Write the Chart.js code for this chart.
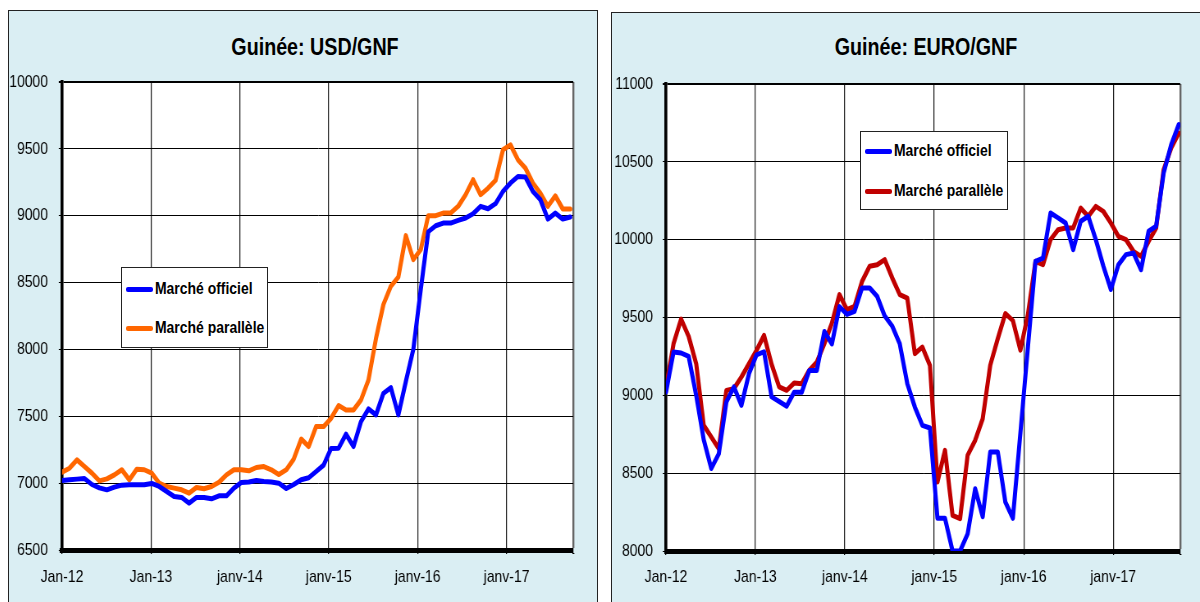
<!DOCTYPE html>
<html><head><meta charset="utf-8">
<script src="https://cdn.jsdelivr.net/npm/chart.js@4.4.0/dist/chart.umd.min.js"></script>
<style>
html,body{margin:0;padding:0;background:#fff;width:1200px;height:602px;overflow:hidden;position:relative;font-family:'Liberation Sans',Arial,sans-serif;}
.panel{position:absolute;background:#DAEEF3;border:1px solid #222;box-sizing:border-box;}
#p1{left:8px;top:10px;width:590px;height:640px;}
#p2{left:611px;top:12px;width:640px;height:640px;}
.title{position:absolute;font-weight:bold;font-size:24px;line-height:28px;text-align:center;width:400px;color:#000;transform:scaleX(0.82);transform-origin:center;}
canvas{position:absolute;}
.legend{position:absolute;background:#fff;border:1px solid #222;box-sizing:border-box;}
.item{position:absolute;height:20px;display:flex;align-items:center;white-space:nowrap;color:#000;}
.item .tx{display:inline-block;font-weight:bold;font-size:17px;transform:scaleX(0.82);transform-origin:left center;}
.sw{width:27px;height:5px;margin-right:2px;border-radius:2px;flex:none;}
</style></head>
<body>
<div class="panel" id="p1"></div>
<div class="panel" id="p2"></div>
<div class="title" id="t1" style="left:115px;top:33px;">Guinée: USD/GNF</div>
<div class="title" id="t2" style="left:726px;top:33px;">Guinée: EURO/GNF</div>
<canvas id="c1" style="left:8px;top:10px;width:589px;height:592px;"></canvas>
<canvas id="c2" style="left:611px;top:12px;width:589px;height:590px;"></canvas>
<div class="legend" id="l1" style="left:121px;top:267px;width:147px;height:81px;"></div>
<div class="legend" id="l2" style="left:860px;top:131px;width:148px;height:79px;"></div>
<script>
// ---- Data ----
const months = [];
['12','13','14','15','16','17'].forEach(y => {
  ['01','02','03','04','05','06','07','08','09','10','11','12'].forEach(m => months.push(m + '/' + y));
});
months.length = 69; // Jan-12 .. Sep-17

const yearLabels = ['Jan-12', 'Jan-13', 'janv-14', 'janv-15', 'janv-16', 'janv-17'];
const seriesNames = ['Marché officiel', 'Marché parallèle'];

const usdOfficiel = [
  7020,7025,7030,7035,6990,6965,6950,6970,6985,6988,6988,6988,
  6998,6975,6938,6900,6893,6850,6893,6893,6883,6905,6905,6963,
  7005,7008,7020,7012,7008,7000,6960,6990,7025,7040,7087,7135,
  7260,7261,7366,7274,7460,7555,7510,7672,7714,7510,7760,8000,
  8450,8880,8925,8945,8945,8965,8983,9015,9070,9052,9090,9182,
  9244,9293,9289,9182,9120,8975,9020,8975,8990
];
const usdParallele = [
  7082,7112,7174,7124,7075,7017,7032,7062,7100,7025,7104,7100,
  7075,7000,6975,6963,6950,6925,6968,6958,6975,7007,7062,7100,
  7100,7092,7117,7124,7100,7065,7100,7180,7330,7274,7423,7423,
  7485,7580,7547,7547,7622,7771,8080,8336,8473,8542,8851,8672,
  8746,9000,9000,9020,9020,9070,9157,9269,9157,9206,9264,9493,
  9530,9418,9356,9244,9169,9070,9149,9050,9050
];
const euroOfficiel = [
  9021,9278,9272,9250,9000,8715,8530,8625,8957,9054,8936,9139,
  9260,9280,8990,8960,8930,9020,9020,9160,9160,9410,9330,9570,
  9520,9540,9690,9690,9636,9510,9445,9330,9075,8925,8807,8790,
  8210,8210,8000,8000,8110,8400,8220,8636,8636,8315,8210,8760,
  9310,9861,9882,10171,10140,10107,9936,10118,10150,10000,9830,9680,
  9839,9904,9914,9807,10054,10086,10428,10610,10739
];
const euroParallele = [
  9054,9332,9490,9379,9203,8807,8732,8657,9032,9043,9118,9203,
  9289,9385,9200,9054,9032,9079,9075,9161,9214,9332,9465,9647,
  9550,9572,9732,9829,9839,9872,9754,9647,9625,9268,9310,9193,
  8443,8647,8229,8208,8615,8711,8850,9193,9364,9525,9480,9290,
  9520,9861,9839,10000,10064,10075,10075,10203,10150,10214,10182,10107,
  10021,10000,9925,9893,9989,10075,10450,10589,10685
];

// ---- Chart setup ----
const FONT = "'Liberation Sans', Arial, sans-serif";
Chart.defaults.font.family = FONT;
const SX = 0.82; // horizontal compression of the canvas (narrow typeface look)

const plotBg = {
  id: 'plotBg',
  beforeDraw(chart) {
    const {ctx, chartArea: a} = chart;
    ctx.save();
    ctx.fillStyle = '#fff';
    ctx.fillRect(a.left, a.top, a.width, a.height);
    ctx.restore();
  }
};

function makeChart(canvasId, legendId, legendRows, cfg) {
  const cv = document.getElementById(canvasId);
  cv.width = Math.round(cfg.cssW / SX);
  cv.height = cfg.cssH;
  const yWidth = cfg.plotLeft / SX;
  const padRight = cv.width - cfg.plotRight / SX;
  const yPad = (cfg.plotLeft - cfg.labelRight) / SX - 4;

  const datasets = cfg.series.map((s, k) => ({
    label: seriesNames[k],
    data: s.map((v, i) => ({x: i, y: v})),
    borderColor: cfg.colors[k],
    backgroundColor: cfg.colors[k],
    borderWidth: 5,
    pointRadius: 0,
    tension: 0,
    borderJoinStyle: 'round',
    borderCapStyle: 'round',
    xAxisID: 'x',
    yAxisID: 'y'
  }));
  const chart = new Chart(cv, {
    type: 'line',
    data: {datasets},
    plugins: [plotBg],
    options: {
      responsive: false,
      animation: false,
      devicePixelRatio: 1,
      layout: {padding: {left: 0, top: cfg.padTop, right: padRight, bottom: 0}},
      plugins: {legend: {display: false}, tooltip: {enabled: false}, title: {display: false}},
      scales: {
        x: {type: 'linear', min: 0, max: cfg.xMax, display: false},
        xg: {
          type: 'linear', position: 'bottom', min: 0, max: 69,
          afterFit(s) { s.height = cfg.xHeight; },
          ticks: {
            stepSize: 12, autoSkip: false, maxRotation: 0, padding: cfg.xPad,
            color: '#000', font: {size: 17, family: FONT},
            callback: (v) => (v % 12 === 0 && v / 12 < yearLabels.length) ? yearLabels[v / 12] : ''
          },
          grid: {
            color: (c) => (c.tick && c.tick.value === 69) ? '#666' : '#222',
            lineWidth: (c) => (c.tick && c.tick.value === 69) ? 2.4 : 1.25,
            tickLength: 4, tickColor: '#000', drawTicks: true
          },
          border: {display: true, color: '#000', width: 5}
        },
        y: {
          type: 'linear', position: 'left', min: cfg.yMin, max: cfg.yMax,
          afterFit(s) { s.width = yWidth; },
          ticks: {
            stepSize: 500, padding: yPad, color: '#000',
            font: {size: 17, family: FONT},
            callback: (v) => String(v)
          },
          grid: {color: '#000', lineWidth: (c) => (c.tick && c.tick.value === cfg.yMax) ? 2 : 1, tickLength: 4, tickColor: '#000'},
          border: {display: true, color: '#000', width: 3.6}
        }
      }
    }
  });
  // HTML legend from datasets
  const box = document.getElementById(legendId);
  chart.data.datasets.forEach((d, k) => {
    const it = document.createElement('div');
    it.className = 'item';
    it.style.left = legendRows.left + 'px';
    it.style.top = legendRows.tops[k] + 'px';
    const sw = document.createElement('span');
    sw.className = 'sw';
    sw.style.background = d.borderColor;
    const tx = document.createElement('span');
    tx.className = 'tx';
    tx.textContent = d.label;
    it.appendChild(sw); it.appendChild(tx);
    box.appendChild(it);
  });
  return chart;
}

makeChart('c1', 'l1', {left: 4, tops: [11, 50]}, {
  series: [usdOfficiel, usdParallele], colors: ['#0000FF', '#FF6600'],
  yMin: 6500, yMax: 10000, xMax: 68.4,
  cssW: 589, cssH: 592, plotLeft: 54, plotRight: 565, labelRight: 40,
  padTop: 72, xHeight: 52, xPad: 13
});
makeChart('c2', 'l2', {left: 4, tops: [9, 49]}, {
  series: [euroOfficiel, euroParallele], colors: ['#0000FF', '#C00000'],
  yMin: 8000, yMax: 11000, xMax: 68.2,
  cssW: 589, cssH: 590, plotLeft: 55, plotRight: 569, labelRight: 42,
  padTop: 72, xHeight: 51, xPad: 12
});
</script>
</body></html>
